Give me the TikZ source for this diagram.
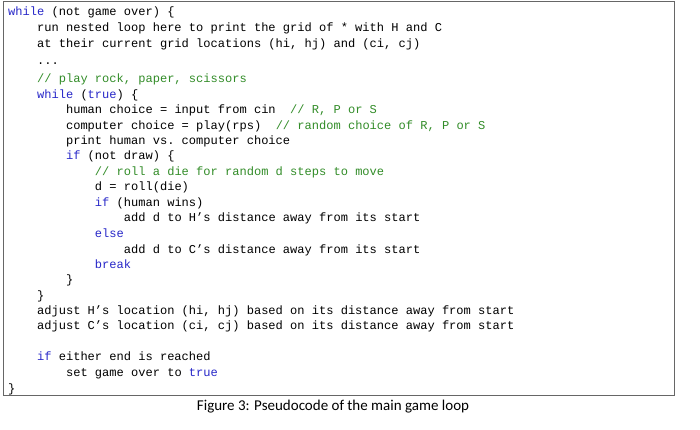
\documentclass[tikz,border=0pt]{standalone}
\usepackage{fontspec}
\setmonofont{Liberation Mono}
\newfontfamily\capfont{Carlito}
\definecolor{kw}{RGB}{40,40,200}
\definecolor{cm}{RGB}{50,140,40}
\newcommand{\K}[1]{\textcolor{kw}{#1}}
\newcommand{\C}[1]{\textcolor{cm}{#1}}
\begin{document}
\begin{tikzpicture}[x=1pt,y=-1pt,
  codeline/.style={anchor=base west,inner sep=0pt,font=\ttfamily\fontsize{12.05}{12}\selectfont}]
\useasboundingbox (0,0) rectangle (700,430);
\draw[line width=1pt,draw=black!60] (3,2) rectangle (674,395);
\foreach \n/\y/\t in {
 l1/16/{\K{while} (not game over) \{},
 l2/32/{\ \ \ \ run nested loop here to print the grid of * with H and C},
 l3/48/{\ \ \ \ at their current grid locations (hi, hj) and (ci, cj)},
 l4/65/{\ \ \ \ ...},
 l5/83/{\ \ \ \ \C{// play rock, paper, scissors}},
 l6/99/{\ \ \ \ \K{while} (\K{true}) \{},
 l7/114/{\ \ \ \ \ \ \ \ human choice = input from cin\ \ \C{// R, P or S}},
 l8/130/{\ \ \ \ \ \ \ \ computer choice = play(rps)\ \ \C{// random choice of R, P or S}},
 l9/145/{\ \ \ \ \ \ \ \ print human vs. computer choice},
 l10/160/{\ \ \ \ \ \ \ \ \K{if} (not draw) \{},
 l11/176/{\ \ \ \ \ \ \ \ \ \ \ \ \C{// roll a die for random d steps to move}},
 l12/191/{\ \ \ \ \ \ \ \ \ \ \ \ d = roll(die)},
 l13/206/{\ \ \ \ \ \ \ \ \ \ \ \ \K{if} (human wins)},
 l14/222/{\ \ \ \ \ \ \ \ \ \ \ \ \ \ \ \ add d to H’s distance away from its start},
 l15/237/{\ \ \ \ \ \ \ \ \ \ \ \ \K{else}},
 l16/253/{\ \ \ \ \ \ \ \ \ \ \ \ \ \ \ \ add d to C’s distance away from its start},
 l17/268/{\ \ \ \ \ \ \ \ \ \ \ \ \K{break}},
 l18/283/{\ \ \ \ \ \ \ \ \}},
 l19/299/{\ \ \ \ \}},
 l20/314/{\ \ \ \ adjust H’s location (hi, hj) based on its distance away from start},
 l21/329/{\ \ \ \ adjust C’s location (ci, cj) based on its distance away from start},
 l22/360/{\ \ \ \ \K{if} either end is reached},
 l23/376/{\ \ \ \ \ \ \ \ set game over to \K{true}},
 l24/392/{\}}}
 \node[codeline] (\n) at (8,\y) {\t};
\node[anchor=base,inner sep=0pt,font=\capfont\fontsize{15}{16}\selectfont] (cap) at (333,410) {Figure 3: Pseudocode of the main game loop};
\end{tikzpicture}
\end{document}
